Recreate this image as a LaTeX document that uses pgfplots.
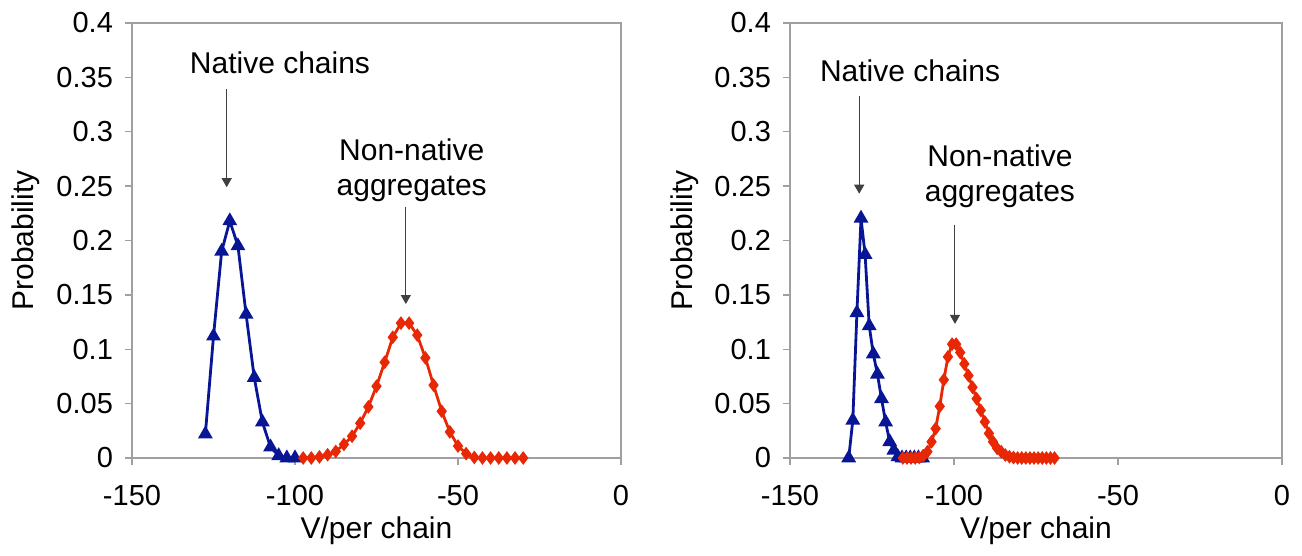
\documentclass[border=0pt]{standalone}
\usepackage{fontspec}
\setmainfont{Liberation Sans}
\usepackage{pgfplots}
\pgfplotsset{compat=1.18}
\usetikzlibrary{arrows.meta}

\definecolor{nativeblue}{RGB}{8,22,150}
\definecolor{aggred}{RGB}{232,40,5}
\definecolor{framegray}{RGB}{160,160,160}

% native chains, left panel
\pgfplotstableread{
x y
-127.5 0.022
-125 0.112
-122.5 0.190
-120 0.218
-117.5 0.195
-115 0.132
-112.5 0.074
-110 0.033
-107.5 0.010
-105 0.002
-102.5 0.0
-100 0.0
}\nativeA
% non-native aggregates, left panel
\pgfplotstableread{
x y
-97.5 0.0
-95 0.0
-92.5 0.001
-90 0.003
-87.5 0.006
-85 0.0125
-82.5 0.020
-80 0.032
-77.5 0.047
-75 0.066
-72.5 0.088
-70 0.111
-67.5 0.124
-65 0.124
-62.5 0.113
-60 0.092
-57.5 0.067
-55 0.043
-52.5 0.024
-50 0.011
-47.5 0.004
-45 0.0005
-42.5 0.0
-40 0.0
-37.5 0.0
-35 0.0
-32.5 0.0
-30 0.0
}\aggA
% native chains, right panel
\pgfplotstableread{
x y
-132.1 0.0
-130.85 0.0347
-129.6 0.1336
-128.35 0.2204
-127.1 0.187
-125.85 0.1215
-124.6 0.0956
-123.35 0.077
-122.1 0.0545
-120.85 0.033
-119.6 0.0149
-118.35 0.007
-117.1 0.001
-115.85 0.0
-114.6 0.0
-113.35 0.0
-112.1 0.0
-110.85 0.0
-109.6 0.0
}\nativeB
% non-native aggregates, right panel
\pgfplotstableread{
x y
-115.6 0.0
-114.35 0.0
-113.1 0.0
-111.85 0.0
-110.6 0.0005
-109.35 0.002
-108.1 0.0058
-106.85 0.0149
-105.6 0.027
-104.35 0.0475
-103.1 0.0719
-101.85 0.093
-100.6 0.1047
-99.35 0.1047
-98.1 0.097
-96.85 0.0865
-95.6 0.0758
-94.35 0.065
-93.1 0.0545
-91.85 0.0438
-90.6 0.0332
-89.35 0.0226
-88.1 0.0149
-86.85 0.0089
-85.6 0.0058
-84.35 0.0027
-83.1 0.0012
-81.85 0.0004
-80.6 0.0
-79.35 0.0
-78.1 0.0
-76.85 0.0
-75.6 0.0
-74.35 0.0
-73.1 0.0
-71.85 0.0
-70.6 0.0
-69.35 0.0
}\aggB

\pgfplotsset{
  panel/.style={
    scale only axis, anchor=south west,
    height=217.5pt,
    xmin=-150, xmax=0, ymin=0, ymax=0.4,
    clip=false,
    axis line style={framegray, line width=0.7pt},
    tick style={framegray, line width=0.7pt},
    tick align=outside, major tick length=3.5pt,
    xtick pos=bottom, ytick pos=left,
    xtick={-150,-100,-50,0},
    xticklabels={-150,-100,-50,0},
    ytick={0,0.05,0.1,0.15,0.2,0.25,0.3,0.35,0.4},
    yticklabels={0,0.05,0.1,0.15,0.2,0.25,0.3,0.35,0.4},
    ticklabel style={font=\fontsize{14.5}{17}\selectfont},
    xticklabel style={yshift=-6.5pt},
    yticklabel style={xshift=-2.5pt},
    xlabel={V/per chain},
    ylabel={Probability},
    label style={font=\fontsize{15}{17}\selectfont},
    xlabel style={at={(axis description cs:0.5,0)}, anchor=base, yshift=-40.5pt},
    ylabel style={at={(axis description cs:0,0.5)}, anchor=base, yshift=49pt},
  },
  nat/.style={nativeblue, line width=1.4pt, mark=triangle*, mark size=2.9pt,
    mark options={solid, fill=nativeblue}},
  agg/.style={aggred, line width=1.4pt, mark=diamond*, mark size=2.3pt,
    mark options={solid, fill=aggred}},
}

\begin{document}
\begin{tikzpicture}[font=\fontsize{15}{17.5}\selectfont]
\useasboundingbox (0,0) rectangle (651pt,278pt);

\begin{axis}[panel, at={(66pt,49pt)}, width=244.5pt]
\addplot[nat] table {\nativeA};
\addplot[agg] table {\aggA};
\node at (axis cs:-104.6,0.3635) {Native chains};
\draw[black!75, line width=0.5pt, -{Triangle[width=5pt,length=4.5pt]}]
  (axis cs:-120.95,0.339) -- (axis cs:-120.95,0.249);
\node[align=center] at (axis cs:-64.2,0.265) {Non-native\\aggregates};
\draw[black!75, line width=0.5pt, -{Triangle[width=5pt,length=4.5pt]}]
  (axis cs:-66,0.231) -- (axis cs:-66,0.1416);
\end{axis}

\begin{axis}[panel, at={(395pt,49pt)}, width=246pt]
\addplot[nat] table {\nativeB};
\addplot[agg] table {\aggB};
\node at (axis cs:-113.4,0.356) {Native chains};
\draw[black!75, line width=0.5pt, -{Triangle[width=5pt,length=4.5pt]}]
  (axis cs:-128.9,0.3333) -- (axis cs:-128.9,0.243);
\node[align=center] at (axis cs:-86,0.259) {Non-native\\aggregates};
\draw[black!75, line width=0.5pt, -{Triangle[width=5pt,length=4.5pt]}]
  (axis cs:-99.7,0.2146) -- (axis cs:-99.7,0.1233);
\end{axis}
\end{tikzpicture}
\end{document}
